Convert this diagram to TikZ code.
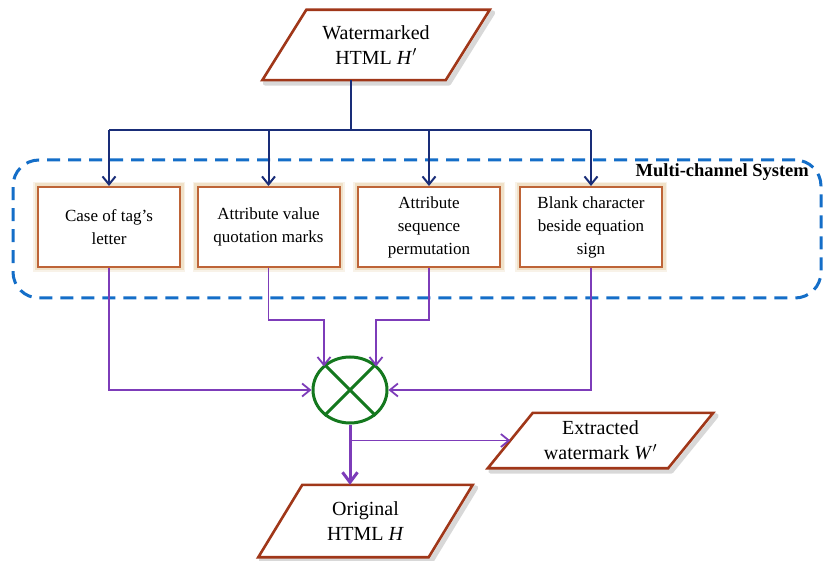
\documentclass[tikz,border=0pt]{standalone}
\usepackage{fontspec}
\setmainfont{Liberation Serif}
\usetikzlibrary{arrows.meta,shapes.geometric,calc}
\definecolor{paraborder}{RGB}{160,55,25}
\definecolor{boxborder}{RGB}{190,100,55}
\definecolor{glowcol}{RGB}{235,215,180}
\definecolor{sysblue}{RGB}{20,110,200}
\definecolor{navy}{RGB}{25,45,120}
\definecolor{purp}{RGB}{125,60,185}
\definecolor{xgreen}{RGB}{20,120,30}
\pgfdeclarelayer{bg}
\pgfsetlayers{bg,main}
\newcommand\drawpara[2]{%
  \begin{pgfonlayer}{bg}
    \draw[gray, opacity=0.3, line width=5, line join=round]
      ($(#1.north west)+(#2+3,3)$) -- ($(#1.north east)+(#2+3,3)$) --
      ($(#1.south east)+(-#2+3,3)$) -- ($(#1.south west)+(-#2+3,3)$) -- cycle;
    \draw[paraborder, line width=2.6, fill=white, line join=miter]
      ($(#1.north west)+(#2,0)$) -- ($(#1.north east)+(#2,0)$) --
      ($(#1.south east)+(-#2,0)$) -- ($(#1.south west)+(-#2,0)$) -- cycle;
  \end{pgfonlayer}}
\tikzset{
  paratext/.style={inner sep=0pt, align=center, font=\fontsize{20}{25}\selectfont},
  chbox/.style={draw=boxborder, line width=2, minimum width=142, minimum height=80,
    inner sep=2pt, align=center, font=\fontsize{17}{23}\selectfont},
  navyline/.style={draw=navy, line width=2},
  navyarrow/.style={navyline, -{Straight Barb[length=8pt,width=13pt,line width=2pt]}},
  purpline/.style={draw=purp, line width=1.8},
  purparrow/.style={purpline, -{Straight Barb[length=8pt,width=13pt,line width=1.8pt]}},
  purpthick/.style={draw=purp, line width=3, -{Straight Barb[length=10pt,width=15pt,line width=3pt]}},
}
\begin{document}
\begin{tikzpicture}[x=1pt,y=-1pt]
\useasboundingbox (0,0) rectangle (825,561);
\begin{pgfonlayer}{bg}
\fill[white] (0,0) rectangle (825,561);
\end{pgfonlayer}

% system frame
\node[draw=sysblue, line width=3, dash pattern=on 13pt off 8pt, rounded corners=26,
  minimum width=808, minimum height=138, inner sep=0] (sys) at (417,229) {};
\node[anchor=east, font=\bfseries\fontsize{18.5}{20}\selectfont, inner sep=0] (mcs) at (809,172) {Multi-channel System};

% parallelograms
\node[paratext, minimum width=183, minimum height=70] (top) at (376,45) {Watermarked\\HTML \textit{H}$'$};
\drawpara{top}{22}
\node[paratext, minimum width=180, minimum height=55] (ext) at (600.5,440.5) {Extracted\\watermark \textit{W}$'$};
\drawpara{ext}{22.5}
\node[paratext, minimum width=170, minimum height=72] (orig) at (365.5,521) {Original\\HTML \textit{H}};
\drawpara{orig}{22}

% channel boxes
\node[chbox] (b1) at (109,227) {Case of tag’s\\letter};
\node[chbox] (b2) at (268.5,227) {Attribute value\\quotation marks};
\node[chbox] (b3) at (429,227) {Attribute\\sequence\\permutation};
\node[chbox] (b4) at (591,227) {Blank character\\beside equation\\sign};
\begin{pgfonlayer}{bg}
\foreach \b in {b1,b2,b3,b4}{
  \draw[glowcol, line width=8, opacity=0.3] (\b.north west) rectangle (\b.south east);
  \draw[glowcol, line width=5, opacity=0.6] (\b.north west) rectangle (\b.south east);
  \fill[white] (\b.north west) rectangle (\b.south east);
}
\end{pgfonlayer}

% XOR
\node[ellipse, draw=xgreen, line width=3, minimum width=74, minimum height=66, inner sep=0] (xor) at (350,390) {};
\draw[xgreen, line width=3] (xor.45) -- (xor.225) (xor.135) -- (xor.315);

% top distribution
\coordinate (split) at (351,130);
\draw[navyline] (split |- top.south) -- (split);
\draw[navyline] (b1.north |- split) -- (b4.north |- split);
\foreach \b in {b1,b2,b3,b4} \draw[navyarrow] (\b.north |- split) -- (\b.north);

% to XOR
\coordinate (j2) at (324,320);
\coordinate (j3) at (376,320);
\draw[purparrow] (b1.south) |- (xor.west);
\draw[purparrow] (b4.south) |- (xor.east);
\draw[purparrow] (b2.south) |- (j2) -- (j2 |- xor.140);
\draw[purparrow] (b3.south) |- (j3) -- (j3 |- xor.40);

% outputs
\draw[purpthick] (xor.south) -- (xor.south |- orig.north);
\draw[purparrow] (xor.south |- ext.west) -- (ext.west);
\end{tikzpicture}
\end{document}
